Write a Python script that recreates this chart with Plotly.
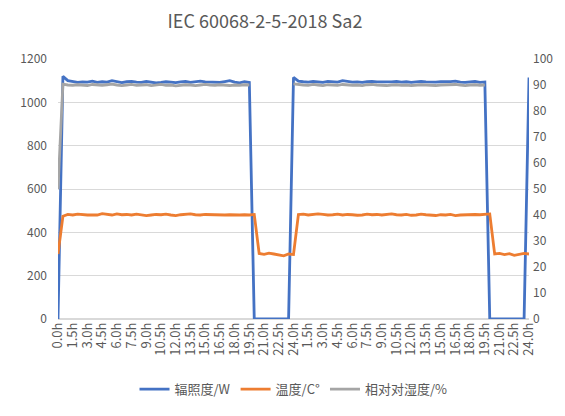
import plotly.graph_objects as go

title_text = "IEC 60068-2-5-2018 Sa2"
series_names = ["辐照度/W", "温度/C°", "相对对湿度/%"]

# tick labels (every 1.5 h; data sampled every 0.5 h)
tick_labels = ["0.0h", "1.5h", "3.0h", "4.5h", "6.0h", "7.5h", "9.0h", "10.5h", "12.0h",
               "13.5h", "15.0h", "16.5h", "18.0h", "19.5h", "21.0h", "22.5h", "24.0h",
               "1.5h", "3.0h", "4.5h", "6.0h", "7.5h", "9.0h", "10.5h", "12.0h",
               "13.5h", "15.0h", "16.5h", "18.0h", "19.5h", "21.0h", "22.5h", "24.0h"]

# irradiance W (left axis)
irr_cycle1 = [0, 1120, 1100, 1095, 1092, 1094, 1093, 1098, 1092, 1095, 1093, 1100,
              1094, 1091, 1095, 1097, 1093, 1092, 1096, 1094, 1090, 1092,
              1095, 1093, 1091, 1094, 1096, 1092, 1095, 1098, 1094, 1093,
              1095, 1092, 1096, 1100, 1093, 1090, 1095, 1092,
              0, 0, 0, 0, 0, 0, 0, 0, 1115]
irr_cycle2 = [1098, 1095, 1093, 1096, 1094, 1092, 1097, 1095, 1093, 1100,
              1096, 1093, 1094, 1092, 1095, 1097, 1094, 1093, 1092, 1094,
              1096, 1093, 1095, 1092, 1094, 1096, 1094, 1092, 1093, 1095,
              1094, 1096, 1098, 1093, 1092, 1095, 1096, 1092, 1094,
              0, 0, 0, 0, 0, 0, 0, 0, 1115]

# temperature °C (right axis)
temp_cycle1 = [25, 39.5, 40.2, 40.0, 40.3, 40.1, 40.0, 40.0, 40.0, 40.5, 40.2, 40.0,
               40.4, 40.1, 40.2, 40.0, 40.3, 40.1, 39.8, 40.0, 40.2, 40.1,
               40.3, 40.0, 39.8, 40.1, 40.2, 40.4, 40.1, 40.0, 40.2, 40.1,
               40.0, 39.9, 40.0, 40.1, 40.0, 40.0, 40.1, 40.0, 40.2,
               25.2, 24.9, 25.3, 25.0, 24.6, 24.3, 25.0, 24.8]
temp_cycle2 = [40.2, 40.3, 40.0, 40.1, 40.4, 40.2, 40.0, 40.1, 40.3, 40.0,
               40.2, 40.1, 39.9, 40.0, 40.3, 40.1, 40.2, 40.0, 40.1, 40.4,
               40.1, 40.0, 40.2, 39.9, 40.0, 40.3, 40.1, 40.0, 39.8, 40.1,
               40.0, 40.2, 39.8, 40.0, 40.1, 40.0, 40.2, 40.1, 40.3, 40.4,
               25.0, 25.2, 24.8, 25.1, 24.5, 24.8, 25.2, 25.0]

# relative humidity % (right axis); no reading in the dark phase
rh_cycle1 = [50, 90.3, 90.0, 89.9, 90.1, 90.0, 89.8, 90.2, 90.0, 89.9, 90.1, 90.3,
             90.0, 89.8, 90.0, 90.2, 89.9, 90.0, 90.1, 89.8, 90.0, 90.2,
             89.9, 90.0, 89.7, 89.9, 90.1, 90.0, 89.8, 90.0, 90.2, 90.0,
             89.9, 90.1, 90.0, 89.8, 90.0, 89.9, 90.1, 90.0,
             None, None, None, None, None, None, None, None, 90.4]
rh_cycle2 = [90.1, 90.0, 89.9, 90.2, 90.0, 89.8, 90.1, 90.0, 89.9, 90.2,
             90.0, 89.9, 90.0, 89.8, 90.1, 90.2, 90.0, 89.9, 89.8, 90.0,
             90.1, 89.9, 90.0, 89.8, 90.0, 90.1, 90.0, 89.9, 89.8, 90.0,
             90.1, 90.0, 90.2, 90.0, 89.8, 90.0, 90.1, 89.9, 90.0,
             None, None, None, None, None, None, None, None, None]

irr = irr_cycle1 + irr_cycle2
temp = temp_cycle1 + temp_cycle2
rh = rh_cycle1 + rh_cycle2
x = list(range(len(irr)))
label_step = 3
tick_pos = x[::label_step]

text_color = "#595959"
grid_color = "#D9D9D9"
font_family = "Noto Sans CJK SC, Noto Sans, sans-serif"

fig = go.Figure()
fig.add_trace(go.Scatter(x=x, y=irr, name=series_names[0], mode="lines",
                         line=dict(color="#4472C4", width=2.8), yaxis="y"))
fig.add_trace(go.Scatter(x=x, y=temp, name=series_names[1], mode="lines",
                         line=dict(color="#ED7D31", width=2.8), yaxis="y2"))
fig.add_trace(go.Scatter(x=x, y=rh, name=series_names[2], mode="lines",
                         line=dict(color="#A5A5A5", width=2.8), yaxis="y2",
                         connectgaps=False))

# the page body keeps an 8 px margin, so the figure is 8 px smaller each way
W, H = 557, 408
fig.update_layout(
    width=W, height=H,
    margin=dict(l=39, r=33, t=51, b=86),
    paper_bgcolor="white", plot_bgcolor="white",
    font=dict(family=font_family, color=text_color, size=12),
    title=dict(text=title_text, x=257 / W, xanchor="center", y=1 - 14 / H,
               yanchor="middle",
               font=dict(size=18, color=text_color, family=font_family)),
    showlegend=True,
    legend=dict(orientation="h", x=0.5, xanchor="center", y=-0.27, yanchor="middle",
                font=dict(size=13, color=text_color), itemwidth=30),
    xaxis=dict(range=[0, len(irr) - 1], tickmode="array", tickvals=tick_pos,
               ticktext=tick_labels, tickangle=-90, showgrid=False, zeroline=False,
               showline=False, ticks="", tickfont=dict(size=13, color=text_color)),
    yaxis=dict(range=[0, 1200], tick0=0, dtick=200, showgrid=True, gridcolor=grid_color,
               gridwidth=1, zeroline=True, zerolinecolor=grid_color, showline=False,
               ticks="", ticklabelstandoff=10, tickfont=dict(size=12, color=text_color)),
    yaxis2=dict(range=[0, 100], tick0=0, dtick=10, overlaying="y", side="right",
                showgrid=False, zeroline=False, showline=False, ticks="",
                ticklabelstandoff=3, tickfont=dict(size=12, color=text_color)),
)

fig.write_html("out.html")
